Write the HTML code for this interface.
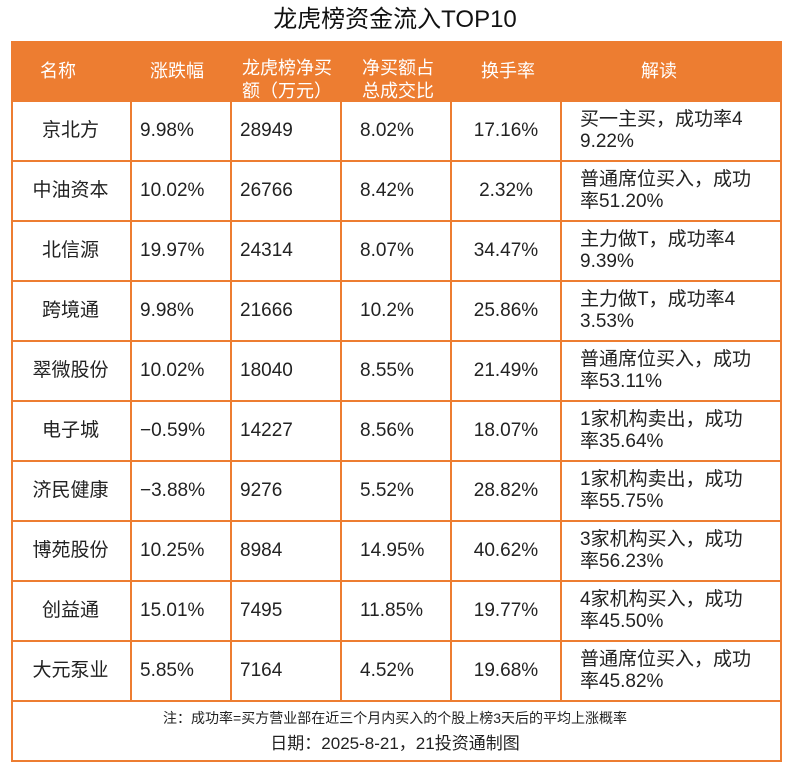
<!DOCTYPE html>
<html><head><meta charset="utf-8"><style>
body{margin:0;width:790px;height:770px;background:#fff;font-family:"Liberation Sans","Noto Sans CJK SC",sans-serif;color:#222;position:relative;overflow:hidden}
.t{position:absolute;white-space:nowrap}
#tbl{position:absolute;left:11px;top:41px;width:767px;height:717px;border:2px solid #ED7D31;box-sizing:content-box}
.hl{position:absolute;background:#ED7D31}
.c{position:absolute;font-size:19px;line-height:22px;white-space:nowrap}
.h{color:#fff;font-size:18px}
</style></head><body>
<div class="t" style="left:0;width:790px;text-align:center;top:5px;font-size:24px;line-height:30px;color:#111">龙虎榜资金流入TOP10</div>
<div id="tbl"></div>
<div class="hl" style="left:11px;top:41px;width:769px;height:60px"></div>
<div id="cells"></div>
<div class="t" style="left:0;width:790px;text-align:center;top:709px;font-size:14px;line-height:18px">注：成功率=买方营业部在近三个月内买入的个股上榜3天后的平均上涨概率</div>
<div class="t" style="left:0;width:790px;text-align:center;top:733px;font-size:17px;line-height:22px">日期：2025-8-21，21投资通制图</div>
<script>
const names=["京北方","中油资本","北信源","跨境通","翠微股份","电子城","济民健康","博苑股份","创益通","大元泵业"];
const changes=["9.98%","10.02%","19.97%","9.98%","10.02%","−0.59%","−3.88%","10.25%","15.01%","5.85%"];
const netBuy=["28949","26766","24314","21666","18040","14227","9276","8984","7495","7164"];
const ratio=["8.02%","8.42%","8.07%","10.2%","8.55%","8.56%","5.52%","14.95%","11.85%","4.52%"];
const turnover=["17.16%","2.32%","34.47%","25.86%","21.49%","18.07%","28.82%","40.62%","19.77%","19.68%"];
const notes=[["买一主买，成功率4","9.22%"],["普通席位买入，成功","率51.20%"],["主力做T，成功率4","9.39%"],["主力做T，成功率4","3.53%"],["普通席位买入，成功","率53.11%"],["1家机构卖出，成功","率35.64%"],["1家机构卖出，成功","率55.75%"],["3家机构买入，成功","率56.23%"],["4家机构买入，成功","率45.50%"],["普通席位买入，成功","率45.82%"]];
const root=document.getElementById('cells');
function add(cls,txt,x,y,extra,name){const d=document.createElement('div');d.className=cls;d.innerHTML=txt;d.style.left=x+'px';d.style.top=y+'px';if(extra)d.style.cssText+=extra;


root.appendChild(d);}
[130,230,340,450,560].forEach((x,i)=>add('hl','',x,101,'width:2px;height:599px','column-divider'));
for(let i=0;i<=10;i++)add('hl','',11,100+i*60,'width:769px;height:2px','row-divider');
add('c h','名称',40,60,'','header-name');
add('c h','涨跌幅',150,60,'','header-change');
add('c h','龙虎榜净买<br>额（万元）',242,57,'line-height:23px','header-net-buy');
add('c h','净买额占<br>总成交比',362,57,'line-height:23px','header-ratio');
add('c h','换手率',481,60,'','header-turnover');
add('c h','解读',641,60,'','header-notes');
for(let i=0;i<10;i++){const y=100+i*60;
add('c',names[i],11,y+20,'width:119px;text-align:center','stock-name');
add('c',changes[i],140,y+20,'','change-cell');
add('c',netBuy[i],240,y+20,'','net-buy-cell');
add('c',ratio[i],360,y+20,'','ratio-cell');
add('c',turnover[i],452,y+20,'width:108px;text-align:center','turnover-cell');
add('c',notes[i][0]+'<br>'+notes[i][1],580,y+9,'line-height:22px','note-cell');}
</script>
</body></html>
